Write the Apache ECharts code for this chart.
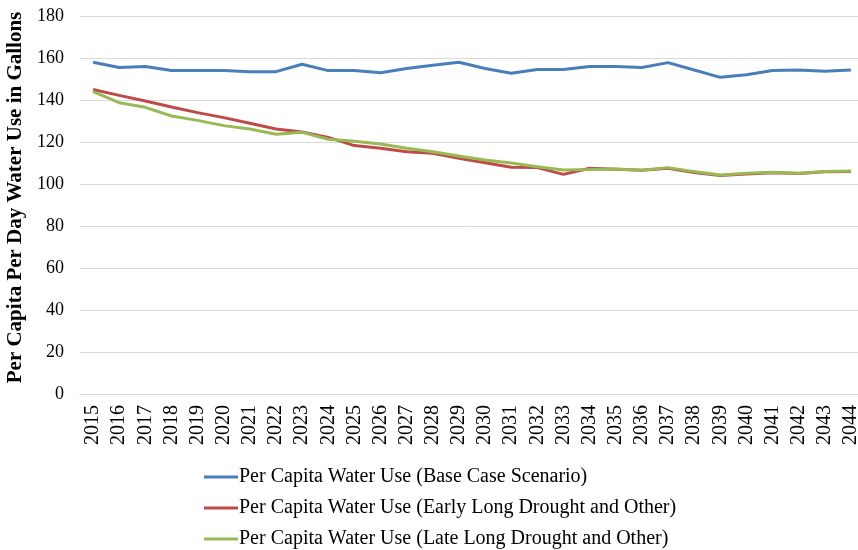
<!DOCTYPE html>
<html><head><meta charset="utf-8">
<script src="https://cdn.jsdelivr.net/npm/echarts@6/dist/echarts.min.js"></script>
<style>html,body{margin:0;padding:0;background:#fff}#c{width:858px;height:550px}</style>
</head><body><div id="c"></div>
<script>
const years = ['2015','2016','2017','2018','2019','2020','2021','2022','2023','2024','2025','2026','2027','2028','2029','2030','2031','2032','2033','2034','2035','2036','2037','2038','2039','2040','2041','2042','2043','2044'];
const baseCase = [158,155.5,156,154,154,154,153.5,153.5,157,154,154,153,155,156.5,158,155,152.7,154.5,154.5,156,156,155.5,157.8,154.3,150.8,152,154,154.3,153.7,154.3];
const earlyDrought = [145,142.2,139.5,136.7,134,131.6,128.9,126.2,124.8,122.2,118.3,117,115.4,114.6,112.2,110.1,108,107.8,104.6,107.5,107,106.5,107.5,105.5,104,104.8,105.3,105,105.8,106];
const lateDrought = [144,138.7,136.5,132.4,130.3,127.8,126.2,123.7,124.6,121.3,120.4,119,117,115.4,113.3,111.4,110,108.2,106.7,106.9,107.2,106.6,107.8,105.9,104.3,105.1,105.6,105.1,106,106.2];
const seriesNames = ['Per Capita Water Use (Base Case Scenario)','Per Capita Water Use (Early Long Drought and Other)','Per Capita Water Use (Late Long Drought and Other)'];
const colors = ['#4a7ebb','#be4b48','#98b954'];
const yTicks = {min:0,max:180,interval:20};

const chart = echarts.init(document.getElementById('c'));
const font = '"Liberation Serif", "Times New Roman", serif';
chart.setOption({
  animation:false,
  color:colors,
  grid:{left:80,top:16,height:378,width:784,outerBoundsMode:'none',containLabel:false},
  legend:{
    orient:'vertical',left:199,top:462,height:90,itemGap:11,itemWidth:34,itemHeight:3,icon:'rect',
    textStyle:{fontFamily:font,fontSize:20,color:'#000',padding:[0,0,0,-4]},
    data:seriesNames
  },
  xAxis:{
    type:'category',data:years,boundaryGap:true,
    axisLine:{show:true,lineStyle:{color:'#d9d9d9',width:1}},
    axisTick:{show:false},
    axisLabel:{rotate:90,interval:0,margin:11,fontFamily:font,fontSize:20,color:'#000'}
  },
  yAxis:{
    type:'value',min:yTicks.min,max:yTicks.max,interval:yTicks.interval,
    name:'Per Capita Per Day Water Use in Gallons',nameLocation:'middle',nameGap:53,
    nameTextStyle:{fontFamily:font,fontSize:21,fontWeight:'bold',color:'#000',padding:[0,0,0,15]},
    axisLine:{show:false},axisTick:{show:false},
    splitLine:{lineStyle:{color:'#d9d9d9',width:1}},
    axisLabel:{margin:16,fontFamily:font,fontSize:18,color:'#000'}
  },
  series:[
    {name:seriesNames[0],type:'line',data:baseCase,symbol:'none',lineStyle:{width:3}},
    {name:seriesNames[1],type:'line',data:earlyDrought,symbol:'none',lineStyle:{width:3}},
    {name:seriesNames[2],type:'line',data:lateDrought,symbol:'none',lineStyle:{width:3}}
  ]
});
</script></body></html>
